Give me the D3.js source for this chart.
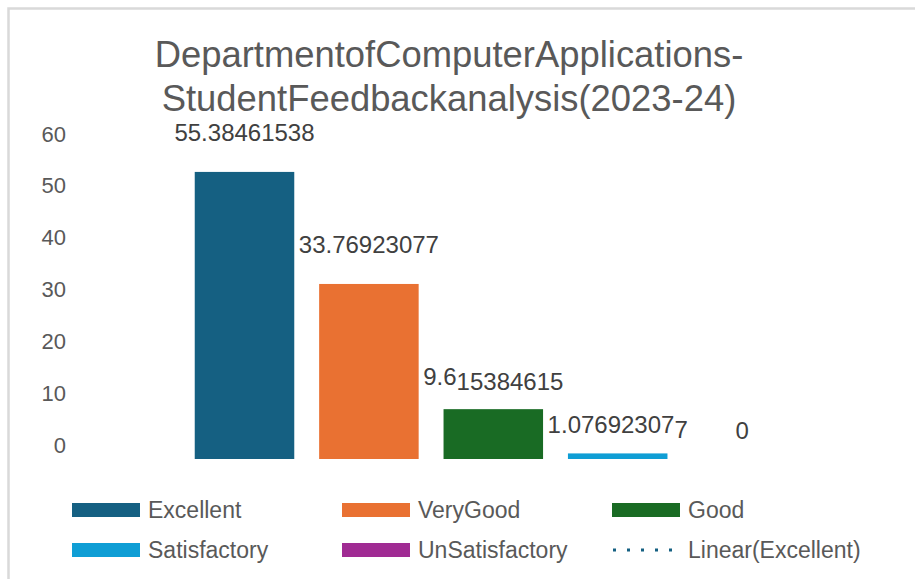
<!DOCTYPE html>
<html>
<head>
<meta charset="utf-8">
<script src="https://cdn.jsdelivr.net/npm/d3@7/dist/d3.min.js"></script>
<style>
  body { margin: 0; background: #fff; }
  text { font-family: "Liberation Sans", Arial, sans-serif; }
</style>
</head>
<body>
<div id="chart"></div>
<script>
// data
const series = ["Excellent", "VeryGood", "Good", "Satisfactory", "UnSatisfactory"];
const values = [55.38461538, 33.76923077, 9.615384615, 1.076923077, 0];
const colors = ["#156082", "#E97132", "#196B24", "#0F9ED5", "#A02B93"];
const yTicks = [0, 10, 20, 30, 40, 50, 60];
const legendItems = ["Excellent", "VeryGood", "Good", "Satisfactory", "UnSatisfactory", "Linear(Excellent)"];
const titleLines = ["DepartmentofComputerApplications-", "StudentFeedbackanalysis(2023-24)"];

const W = 915, H = 579;
const svg = d3.select("#chart").append("svg").attr("width", W).attr("height", H);

// chart frame (runs off right/bottom edge)
svg.append("rect")
    .attr("x", 8.5).attr("y", 8.5)
    .attr("width", 1200).attr("height", 1200)
    .attr("fill", "none")
    .attr("stroke", "#d9d9d9")
    .attr("stroke-width", 2.5);

// title
svg.append("g").selectAll("text")
    .data(titleLines)
    .join("text")
    .attr("x", 449)
    .attr("y", (d, i) => 67 + i * 44)
    .attr("text-anchor", "middle")
    .style("font-size", "36.4px")
    .attr("fill", "#595959")
    .text(d => d);

const y = d3.scaleLinear().domain([0, 60]).range([459, 148]);
const x = d3.scaleBand().domain(series).range([182.3, 804.3]).paddingInner(0.2).paddingOuter(0.1);

// y axis labels (no line, no ticks)
const yAxis = svg.append("g")
    .attr("transform", "translate(66,-14)")
    .call(d3.axisLeft(y).tickValues(yTicks).tickSize(0).tickPadding(0));
yAxis.select(".domain").remove();
yAxis.selectAll("text")
    .style("font-family", "'Liberation Sans', Arial, sans-serif")
    .style("font-size", "22px")
    .attr("fill", "#595959");

// bars
svg.append("g").selectAll("rect")
    .data(values)
    .join("rect")
    .attr("x", (d, i) => x(series[i]))
    .attr("y", d => y(d))
    .attr("width", x.bandwidth())
    .attr("height", d => y(0) - y(d))
    .attr("fill", (d, i) => colors[i]);

// data labels - the pdf export drops the tail of a couple of them a bit lower
const splitAt = { "9.615384615": 3, "1.076923077": 10 };
function labelOffset(v) {
    const h = y(0) - y(v);
    return 17 + Math.min(14, Math.max(3, h * 0.15));
}
const labels = svg.append("g").selectAll("text")
    .data(values)
    .join("text")
    .attr("x", (d, i) => x(series[i]) + x.bandwidth() / 2)
    .attr("y", d => y(d) - labelOffset(d))
    .attr("text-anchor", "middle")
    .style("font-size", "24px")
    .attr("fill", "#404040");
labels.each(function (d) {
    const s = String(d);
    const t = d3.select(this);
    if (splitAt[s]) {
        t.append("tspan").text(s.slice(0, splitAt[s]));
        t.append("tspan").attr("dy", 5).text(s.slice(splitAt[s]));
    } else {
        t.text(s);
    }
});

// legend
const legend = svg.append("g").selectAll("g")
    .data(legendItems)
    .join("g")
    .attr("transform", (d, i) => `translate(${72 + (i % 3) * 270},${510 + Math.floor(i / 3) * 40})`);

legend.each(function (d, i) {
    const g = d3.select(this);
    if (i < colors.length) {
        g.append("rect")
            .attr("x", 0).attr("y", -7)
            .attr("width", 68).attr("height", 14)
            .attr("fill", colors[i]);
    } else {
        g.append("line")
            .attr("x1", 1).attr("x2", 68)
            .attr("y1", 0).attr("y2", 0)
            .attr("stroke", colors[0])
            .attr("stroke-width", 3)
            .attr("stroke-dasharray", "3 11");
    }
    g.append("text")
        .attr("x", 76)
        .attr("y", 8)
        .style("font-size", "23px")
        .attr("fill", "#595959")
        .text(d);
});
</script>
</body>
</html>
